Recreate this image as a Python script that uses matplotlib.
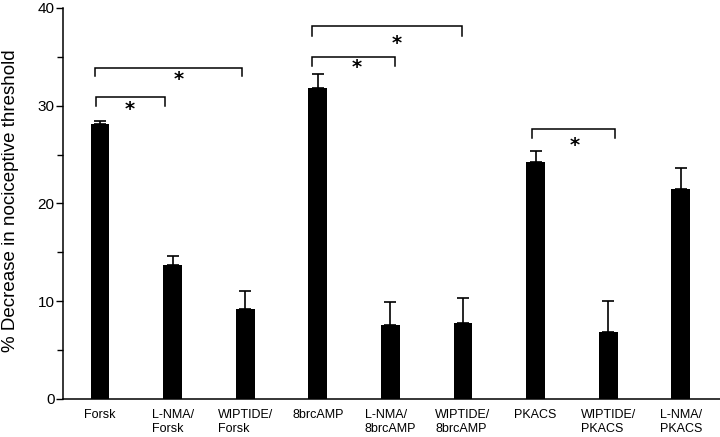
import matplotlib
matplotlib.use("Agg")
import matplotlib.pyplot as plt
import numpy as np
from matplotlib.ticker import MultipleLocator

plt.rcParams['font.family'] = ['Liberation Sans', 'DejaVu Sans']

labels = ["Forsk", "L-NMA/\nForsk", "WIPTIDE/\nForsk", "8brcAMP",
          "L-NMA/\n8brcAMP", "WIPTIDE/\n8brcAMP", "PKACS",
          "WIPTIDE/\nPKACS", "L-NMA/\nPKACS"]
means = [28.1, 13.7, 9.2, 31.8, 7.6, 7.8, 24.2, 6.8, 21.5]
sems = [0.3, 0.9, 1.8, 1.4, 2.3, 2.5, 1.2, 3.2, 2.15]

# significance brackets: left, right (bar index units), top, drop
br_left = [-0.055, -0.07, 2.92, 2.92, 5.95]
br_right = [0.895, 1.956, 4.06, 4.99, 7.09]
br_top = [30.9, 33.9, 35.0, 38.1, 27.6]
br_drop = [0.95, 0.9, 0.9, 1.0, 0.95]
star_x = [0.41, 1.09, 3.54, 4.08, 6.54]
star_y = [29.65, 32.7, 33.85, 36.4, 25.9]

fig = plt.figure(figsize=(7.2, 4.37), dpi=100)
ax = fig.add_axes([0.0875, 0.087, 0.9125, 0.895])

x = np.arange(len(means))
ax.bar(x, means, width=0.26, color='black')
ax.errorbar(x, means, yerr=[np.zeros(len(sems)), sems], fmt='none',
            ecolor='black', elinewidth=1.2, capsize=4.5, capthick=1.2)

for l, r, t, d in zip(br_left, br_right, br_top, br_drop):
    ax.plot([l, l, r, r], [t - d, t, t, t - d], color='black', lw=1.1,
            solid_joinstyle='miter')
for sx, sy in zip(star_x, star_y):
    ax.text(sx, sy, '*', ha='center', va='center', fontsize=14,
            fontweight='bold', family=['DejaVu Sans'])

ax.set_xlim(-0.51, 8.54)
ax.set_ylim(0, 40)
ax.yaxis.set_major_locator(MultipleLocator(10))
ax.yaxis.set_minor_locator(MultipleLocator(5))
ax.set_xticks(x)
ax.set_xticklabels(labels, fontsize=9, multialignment='left',
                   linespacing=1.3)
ax.tick_params(axis='x', length=0, pad=7)
ax.tick_params(axis='y', which='major', length=5, width=1, labelsize=11,
               pad=1)
ax.tick_params(axis='y', which='minor', length=4, width=1)
for s in ['top', 'right']:
    ax.spines[s].set_visible(False)
for s in ['left', 'bottom']:
    ax.spines[s].set_linewidth(1.1)
ax.set_ylabel("% Decrease in nociceptive threshold", fontsize=13.5)
ax.yaxis.set_label_coords(-0.067, 0.508)

fig.savefig("out.png", dpi=100)
